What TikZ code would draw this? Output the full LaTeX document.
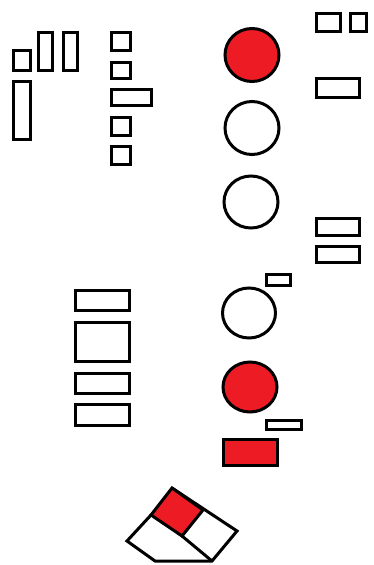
\documentclass[tikz,border=0pt]{standalone}
\definecolor{paintred}{RGB}{237,28,36}
\tikzset{
  outline/.style={draw=black,line width=3pt,line join=miter},
  filled/.style={outline,fill=paintred},
}
\begin{document}
\begin{tikzpicture}[x=1pt,y=-1pt]
\useasboundingbox (0,0) rectangle (373,565);
% left top group
\draw[outline] (13.5,50.5) rectangle (30.5,70.5);
\draw[outline] (13.5,81.5) rectangle (30.5,139.5);
\draw[outline] (38.5,32.5) rectangle (52.5,70.5);
\draw[outline] (63.5,32.5) rectangle (77.5,70.5);
% middle column of small boxes
\draw[outline] (111.5,32.5) rectangle (130.5,50.5);
\draw[outline] (111.5,62.5) rectangle (130.5,78.5);
\draw[outline] (111.5,89.5) rectangle (151.5,105.5);
\draw[outline] (111.5,117.5) rectangle (130.5,135.5);
\draw[outline] (111.5,146.5) rectangle (130.5,164.5);
% circles
\draw[filled] (252,55) ellipse (27 and 26.5);
\draw[outline] (252,128) ellipse (27 and 26.5);
\draw[outline] (251,202) ellipse (27 and 26);
\draw[outline] (249,313) ellipse (26.5 and 25);
\draw[filled] (250,387) ellipse (27 and 25);
% right boxes
\draw[outline] (316.5,13.5) rectangle (340.5,31.5);
\draw[outline] (350.5,13.5) rectangle (366.5,31.5);
\draw[outline] (316.5,78.5) rectangle (359.5,97.5);
\draw[outline] (316.5,218.5) rectangle (359.5,235.5);
\draw[outline] (316.5,246.5) rectangle (359.5,262.5);
\draw[outline] (266.5,274.5) rectangle (290.5,285.5);
% left lower stack
\draw[outline] (75.5,290.5) rectangle (129.5,310.5);
\draw[outline] (75.5,322.5) rectangle (129.5,361.5);
\draw[outline] (75.5,373.5) rectangle (129.5,393.5);
\draw[outline] (75.5,404.5) rectangle (129.5,425.5);
% lower right
\draw[outline] (266.5,420.5) rectangle (301.5,429.5);
\draw[filled] (223.5,439.5) rectangle (277.5,465.5);
% tilted shape
\draw[outline] (172,488) -- (237,531) -- (212,561) -- (155,561) -- (127,541) -- (151,515);
\draw[outline] (182,536) -- (212,561);
\draw[filled] (172,488) -- (203,510) -- (182,536) -- (151,515) -- cycle;
\end{tikzpicture}
\end{document}
